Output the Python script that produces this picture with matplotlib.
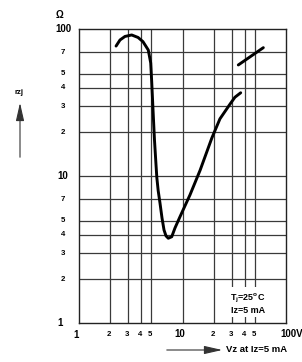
import matplotlib
matplotlib.use('Agg')
import matplotlib.pyplot as plt
from matplotlib.transforms import blended_transform_factory, offset_copy

plt.rcParams['font.family'] = ['Liberation Sans', 'DejaVu Sans']
plt.rcParams['font.weight'] = 'bold'
plt.rcParams['mathtext.fontset'] = 'custom'
plt.rcParams['mathtext.rm'] = 'Liberation Sans:bold'
plt.rcParams['mathtext.it'] = 'Liberation Sans:bold'
plt.rcParams['mathtext.bf'] = 'Liberation Sans:bold'

# ---- data ----
vz_main = [2.28, 2.49, 2.78, 3.23, 3.72, 4.15, 4.67, 4.93, 5.04, 5.19, 5.36, 5.55,
           5.65, 5.82, 6.06, 6.34, 6.63, 6.93, 7.29, 7.87, 8.46, 9.46, 11.8, 14.8,
           19.2, 23.0, 28.8, 32.1, 36.5]
rz_main = [76.9, 84.6, 89.4, 91.5, 88.0, 82.4, 72.3, 59.0, 44.0, 28.3, 17.7, 11.9,
           9.80, 8.00, 6.58, 5.20, 4.31, 3.93, 3.79, 3.88, 4.45, 5.31, 7.46, 11.0,
           18.2, 24.6, 31.0, 34.5, 37.0]
vz_high = [34.6, 60.4]
rz_high = [57.2, 75.0]

x_grid = [2, 3, 4, 5, 10, 20, 30, 40, 50]
y_grid = [2, 3, 4, 5, 7, 10, 20, 30, 40, 50, 70]
x_tick_pos = [1, 2, 3, 4, 5, 10, 20, 30, 40, 50]
x_tick_lab = ["1", "2", "3", "4", "5", "10", "2", "3", "4", "5"]
y_tick_pos = [1, 2, 3, 4, 5, 7, 10, 20, 30, 40, 50, 70, 100]
y_tick_lab = ["1", "2", "3", "4", "5", "7", "10", "2", "3", "4", "5", "7", "100"]
major_labels = {"1", "10", "100"}

W, H = 302, 362
fig = plt.figure(figsize=(W / 100, H / 100), dpi=100)
ax = fig.add_axes([79 / W, 1 - 323.3 / H, (286 - 79) / W, (323.3 - 29.3) / H])
ax.set_xscale('log')
ax.set_yscale('log')
ax.set_xlim(1, 100)
ax.set_ylim(1, 100)
ax.set_xticks([]); ax.set_yticks([])
ax.minorticks_off()
ax.tick_params(which='both', length=0, labelbottom=False, labelleft=False)
for s in ax.spines.values():
    s.set_linewidth(1.0)
    s.set_color('#222222')

for xv in x_grid:
    ax.axvline(xv, color='#3a3a3a', lw=0.9, zorder=1)
for yv in y_grid:
    ax.axhline(yv, color='#3a3a3a', lw=0.9, zorder=1)

ax.plot(vz_main, rz_main, color='black', lw=2.1, solid_capstyle='round',
        solid_joinstyle='round', zorder=4)
ax.plot(vz_high, rz_high, color='black', lw=2.1, solid_capstyle='round', zorder=4)

# tick labels
tx = blended_transform_factory(ax.transData, ax.transAxes)
for p, l in zip(x_tick_pos, x_tick_lab):
    dx = -3 if l in ("1", "10") else -1
    dy = -12 if l == "1" else -11
    t = offset_copy(tx, fig=fig, x=dx, y=dy, units='dots')
    ax.text(p, 0, l, transform=t, ha='center', va='center',
            fontsize=7 if l in major_labels else 5.6, fontweight='bold')
t = offset_copy(tx, fig=fig, x=-6, y=-11, units='dots')
ax.text(100, 0, "100V", transform=t, ha='left', va='center', fontsize=7,
        fontweight='bold')

ty = blended_transform_factory(ax.transAxes, ax.transData)
for p, l in zip(y_tick_pos, y_tick_lab):
    dx = -19 if l == "1" else -16
    t = offset_copy(ty, fig=fig, x=dx, y=0, units='dots')
    ax.text(0, p, l, transform=t, ha='center', va='center',
            fontsize=7 if l in major_labels else 5.6, fontweight='bold')

# unit and axis labels
fig.text(60 / W, 1 - 15 / H, "Ω", ha='center', va='center', fontsize=7,
         fontweight='bold')
fig.text(19 / W, 1 - 92 / H, "rzj", ha='center', va='center', fontsize=5.6,
         fontweight='bold')
fig.text(226 / W, 1 - 350 / H, "Vz at Iz=5 mA", ha='left', va='center',
         fontsize=6.8, fontweight='bold')

ax.annotate('', xy=(20, H - 100), xycoords='figure pixels',
            xytext=(20, H - 160), textcoords='figure pixels',
            arrowprops=dict(arrowstyle='-|>,head_length=1.1,head_width=0.25',
                            color='#333333', lw=0.8))
ax.annotate('', xy=(225, H - 350), xycoords='figure pixels',
            xytext=(164, H - 350), textcoords='figure pixels',
            arrowprops=dict(arrowstyle='-|>,head_length=1.1,head_width=0.25',
                            color='#333333', lw=0.8))

# condition box
ax.text(248 / W, 1 - 303 / H, "T$_\\mathregular{j}$=25$^\\mathregular{o}$C\nIz=5 mA",
        transform=fig.transFigure, ha='center', va='center', fontsize=6.5,
        fontweight='bold', linespacing=1.15, zorder=3,
        bbox=dict(facecolor='white', edgecolor='none', pad=1.5))

fig.savefig('out.png', dpi=100)
